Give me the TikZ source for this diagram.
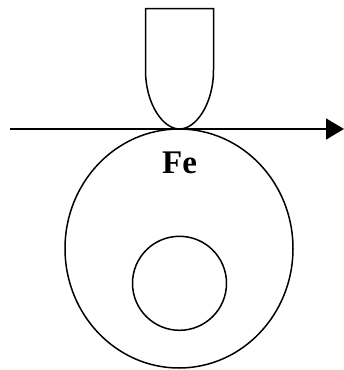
\documentclass[tikz,border=0pt]{standalone}
\usepackage{fontspec}
\setmainfont{Liberation Serif}
\usetikzlibrary{arrows.meta}

\begin{document}
\begin{tikzpicture}[x=1pt, y=-1pt, line width=1.5pt]
  \useasboundingbox (0, 0) rectangle (344, 370);

  % roller and its bore
  \draw (179, 248.5) ellipse (114pt and 119.5pt);
  \draw (179.5, 283.3) circle (47pt);

  % stylus
  \draw (179.5, 129) .. controls (163, 129) and (145.5, 104) .. (145.5, 70) -- (145.5, 8.7) -- (213.5, 8.7) -- (213.5, 70) .. controls (213.5, 104) and (196, 129) .. (179.5, 129) -- cycle;

  \coordinate (start) at (10, 129);
  \coordinate (tip) at (344, 129);
  \draw[-{Triangle[length=18pt, width=21pt]}] (start) -- (tip);

  \node[font=\fontsize{33}{33}\selectfont\bfseries] (fe) at (179.5, 163) {Fe};
\end{tikzpicture}
\end{document}
